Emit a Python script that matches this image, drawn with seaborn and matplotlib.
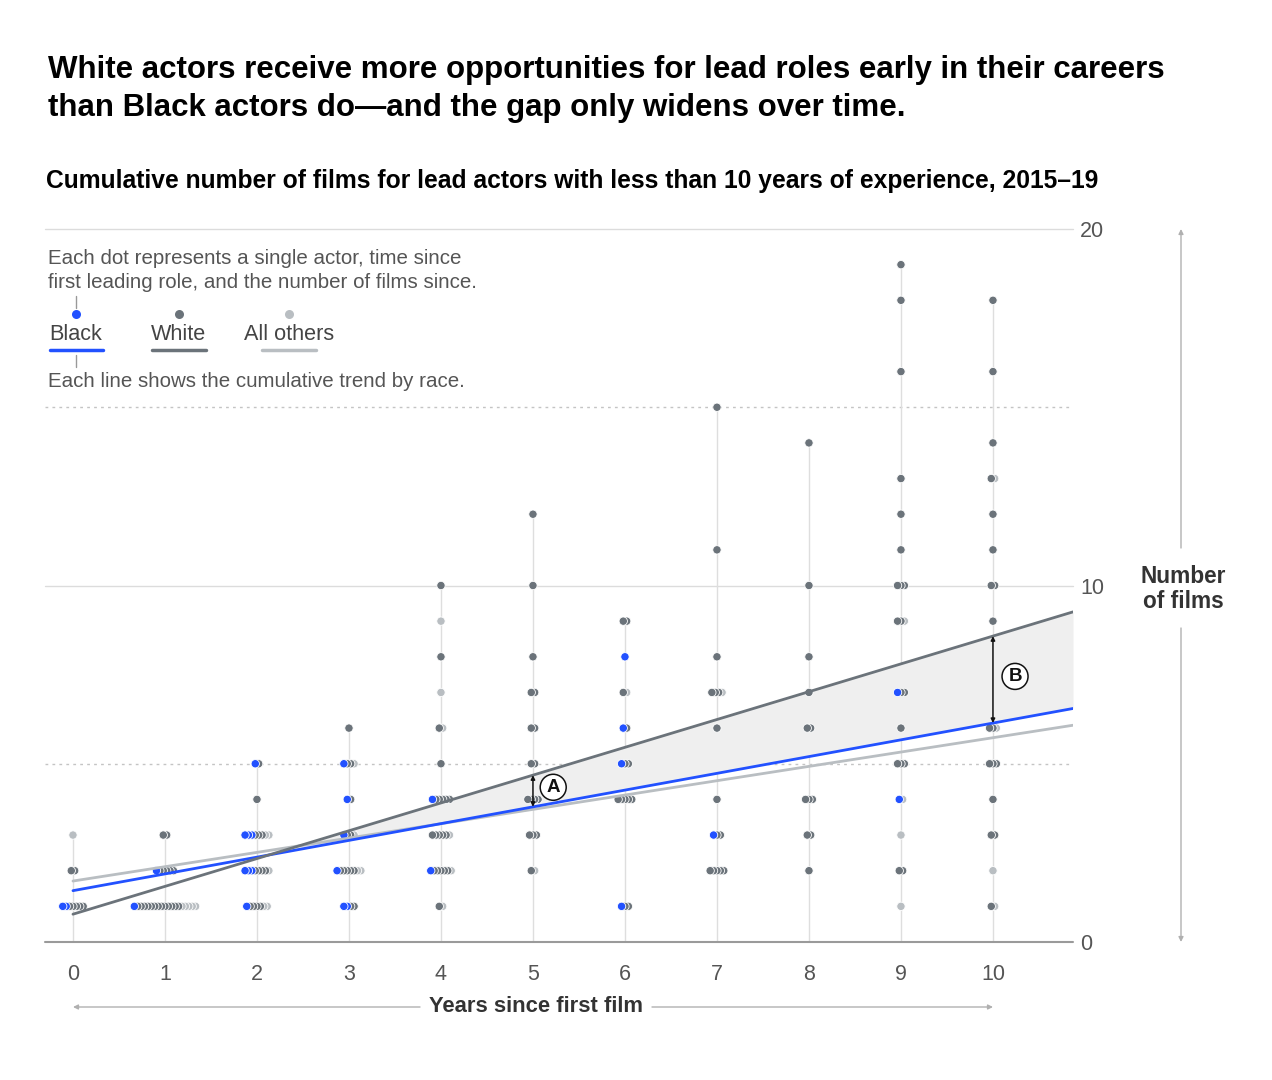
import numpy as np
import pandas as pd
import matplotlib.pyplot as plt
from matplotlib.lines import Line2D
import seaborn as sns

# (years since first film, cumulative films, number of actors)
BLACK = [
    (0, 1, 2),
    (1, 1, 1), (1, 2, 1),
    (2, 1, 1), (2, 2, 3), (2, 3, 3), (2, 5, 1),
    (3, 1, 2), (3, 2, 1), (3, 3, 1), (3, 4, 1), (3, 5, 1),
    (4, 2, 1), (4, 4, 1),
    (6, 1, 1), (6, 5, 1), (6, 6, 1), (6, 8, 1),
    (7, 3, 1),
    (9, 4, 1), (9, 7, 1),
]
WHITE = [
    (0, 1, 5), (0, 2, 2),
    (1, 1, 13), (1, 2, 5), (1, 3, 2),
    (2, 1, 4), (2, 2, 4), (2, 3, 3), (2, 4, 1), (2, 5, 1),
    (3, 1, 2), (3, 2, 5), (3, 3, 2), (3, 4, 1), (3, 5, 2), (3, 6, 1),
    (4, 1, 1), (4, 2, 5), (4, 3, 5), (4, 4, 5), (4, 5, 1), (4, 6, 1), (4, 8, 1), (4, 10, 1),
    (5, 2, 1), (5, 3, 3), (5, 4, 4), (5, 5, 2), (5, 6, 2), (5, 7, 2), (5, 8, 1), (5, 10, 1), (5, 12, 1),
    (6, 1, 2), (6, 4, 5), (6, 5, 2), (6, 6, 1), (6, 7, 1), (6, 9, 2),
    (7, 2, 5), (7, 3, 2), (7, 4, 1), (7, 6, 1), (7, 7, 3), (7, 8, 1), (7, 11, 1), (7, 15, 1),
    (8, 2, 1), (8, 3, 2), (8, 4, 3), (8, 6, 2), (8, 7, 1), (8, 8, 1), (8, 10, 1), (8, 14, 1),
    (9, 2, 2), (9, 5, 3), (9, 6, 1), (9, 7, 2), (9, 9, 2), (9, 10, 3), (9, 11, 1), (9, 12, 1),
    (9, 13, 1), (9, 16, 1), (9, 18, 1), (9, 19, 1),
    (10, 1, 1), (10, 3, 2), (10, 4, 1), (10, 5, 3), (10, 6, 2), (10, 9, 1), (10, 10, 2),
    (10, 11, 1), (10, 12, 1), (10, 13, 1), (10, 14, 1), (10, 16, 1), (10, 18, 1),
]
OTHERS = [
    (0, 3, 1),
    (1, 1, 5),
    (2, 1, 2), (2, 2, 1), (2, 3, 2),
    (3, 2, 2), (3, 3, 1), (3, 5, 1),
    (4, 1, 1), (4, 2, 1), (4, 3, 1), (4, 6, 1), (4, 7, 1), (4, 9, 1),
    (5, 2, 1),
    (6, 7, 1),
    (7, 7, 1),
    (9, 1, 1), (9, 3, 1), (9, 4, 1), (9, 9, 1),
    (10, 1, 1), (10, 2, 1), (10, 6, 1), (10, 13, 1),
]

# cumulative trend lines, read at the start and end of the plot
TREND_X = [0, 10.87]
TREND_BLACK = [1.44, 6.55]
TREND_WHITE = [0.78, 9.26]
TREND_OTHERS = [1.71, 6.08]

YEARS = list(range(11))
Y_TICKS = [0, 10, 20]
RACES = ["Black", "White", "All others"]
COLORS = {"Black": "#2251ff", "White": "#6b737a", "All others": "#b9bec2"}

TITLE = ("White actors receive more opportunities for lead roles early in their careers\n"
         "than Black actors do\u2014and the gap only widens over time.")
SUBTITLE = "Cumulative number of films for lead actors with less than 10 years of experience, 2015\u201319"

W, H = 1272, 1080


def fx(px):
    return px / W


def fy(py):
    return 1 - py / H


# ── one row per actor, stacked sideways inside each (year, films) cell ──────
rows = []
for race, data in zip(RACES, [BLACK, WHITE, OTHERS]):
    for year, films, n in data:
        rows += [(race, year, films)] * n
df = pd.DataFrame(rows, columns=["race", "year", "films"])
df["order"] = df["race"].map({r: i for i, r in enumerate(RACES)})
df = df.sort_values(["year", "films", "order"], kind="stable")
grp = df.groupby(["year", "films"])
df["idx"] = grp.cumcount()
df["n"] = grp["race"].transform("size")
STEP = 0.037
df["x"] = df["year"] + (df["idx"] - (df["n"] - 1) / 2) * STEP
df = df.sort_values("x", ascending=False)   # leftmost dot ends up on top

trend = pd.DataFrame({
    "x": TREND_X * 3,
    "films": TREND_OTHERS + TREND_BLACK + TREND_WHITE,
    "race": ["All others"] * 2 + ["Black"] * 2 + ["White"] * 2,
})

sns.set_theme(style="white")
plt.rcParams["font.family"] = ["Liberation Sans", "DejaVu Sans"]

fig = plt.figure(figsize=(12.72, 10.8), dpi=100)
ax = fig.add_axes([fx(45), fy(942), (1073 - 45) / W, (942 - 229) / H])
ax.set_xlim(-0.304, 10.87)
ax.set_ylim(0, 20)

# grid
for v in [10, 20]:
    ax.axhline(v, color="#dcdcdc", lw=1, zorder=0, clip_on=False)
for v in [5, 15]:
    ax.axhline(v, color="#c4c4c4", lw=1, ls=(0, (2, 3)), zorder=0)
ax.axhline(0, color="#9a9a9a", lw=1.5, zorder=1, clip_on=False)
tops = df.groupby("year")["films"].max()
ax.vlines(tops.index, 0, tops.values, color="#dedede", lw=1, zorder=0)

# gap between White and Black trends
xs = np.linspace(TREND_X[0], TREND_X[1], 300)
wv = np.interp(xs, TREND_X, TREND_WHITE)
bv = np.interp(xs, TREND_X, TREND_BLACK)
ax.fill_between(xs, bv, wv, where=wv >= bv, interpolate=True,
                color="#efefef", lw=0, zorder=0.5)

sns.scatterplot(data=df, x="x", y="films", hue="race", palette=COLORS,
                s=36, edgecolor="white", linewidth=0.6, legend=False,
                ax=ax, zorder=2)
sns.lineplot(data=trend, x="x", y="films", hue="race", palette=COLORS,
             hue_order=["All others", "Black", "White"], lw=2,
             legend=False, ax=ax, zorder=3)

# gap markers A and B
for xa, label, lx, ly in [(5, "A", 5.22, 4.34), (10, "B", 10.24, 7.45)]:
    top = np.interp(xa, TREND_X, TREND_WHITE)
    bot = np.interp(xa, TREND_X, TREND_BLACK)
    ax.annotate("", xy=(xa, top), xytext=(xa, bot), zorder=4,
                arrowprops=dict(arrowstyle="<|-|>", color="#111", lw=1.1,
                                shrinkA=0, shrinkB=0, mutation_scale=6))
    ax.text(lx, ly, label, ha="center", va="center", fontsize=13.5,
            fontweight="bold", color="#111", zorder=5,
            bbox=dict(boxstyle="circle,pad=0.24", fc="white", ec="#111", lw=1.1))

# axes, ticks
ax.set_xticks(YEARS)
ax.set_yticks(Y_TICKS)
ax.yaxis.tick_right()
ax.tick_params(axis="x", length=0, pad=16, labelsize=15.5, labelcolor="#555")
ax.tick_params(axis="y", length=0, pad=5, labelsize=15.5, labelcolor="#555")
ax.set_xlabel("")
ax.set_ylabel("")
sns.despine(ax=ax, left=True, bottom=True, right=True, top=True)
ax.grid(False)

arrow_kw = dict(arrowstyle="-|>", color="#b0b0b0", lw=1, mutation_scale=7,
                shrinkA=0, shrinkB=0)
ax.annotate("", xy=(fx(1181), fy(229)), xytext=(fx(1181), fy(548)),
            xycoords="figure fraction", arrowprops=arrow_kw, annotation_clip=False)
ax.annotate("", xy=(fx(1181), fy(942)), xytext=(fx(1181), fy(628)),
            xycoords="figure fraction", arrowprops=arrow_kw, annotation_clip=False)
fig.text(fx(1183), fy(589), "Number\nof films", ha="center", va="center",
         fontsize=16.3, fontweight="bold", color="#333", linespacing=1.15)

ax.annotate("", xy=(fx(73), fy(1007)), xytext=(fx(420), fy(1007)),
            xycoords="figure fraction", arrowprops=arrow_kw, annotation_clip=False)
ax.annotate("", xy=(fx(993), fy(1007)), xytext=(fx(652), fy(1007)),
            xycoords="figure fraction", arrowprops=arrow_kw, annotation_clip=False)
fig.text(fx(536), fy(1006), "Years since first film", ha="center", va="center",
         fontsize=15.8, fontweight="bold", color="#333")

# titles
fig.text(fx(48), fy(55), TITLE, ha="left", va="top", fontsize=22.5,
         fontweight="bold", color="#000", linespacing=1.33)
fig.text(fx(46), fy(181), SUBTITLE, ha="left", va="center", fontsize=17.7,
         fontweight="bold", color="#000")

# explanatory legend
note_kw = dict(ha="left", va="center", fontsize=14.8, color="#555")
fig.text(fx(48), fy(258), "Each dot represents a single actor, time since", **note_kw)
fig.text(fx(48), fy(282), "first leading role, and the number of films since.", **note_kw)
fig.text(fx(48), fy(381), "Each line shows the cumulative trend by race.", **note_kw)
fig.add_artist(Line2D([fx(76), fx(76)], [fy(296), fy(308)], color="#999", lw=1))
fig.add_artist(Line2D([fx(76), fx(76)], [fy(355), fy(367)], color="#999", lw=1))
for race, cx, x0, x1 in [("Black", 76, 50, 103), ("White", 179, 152, 206),
                         ("All others", 289, 262, 316)]:
    fig.add_artist(Line2D([fx(cx)], [fy(314)], marker="o", ms=6.5, mew=0,
                          color=COLORS[race]))
    fig.text(fx(cx), fy(335), race, ha="center", va="center", fontsize=15.6,
             color="#444")
    fig.add_artist(Line2D([fx(x0), fx(x1)], [fy(350), fy(350)], lw=2.5,
                          color=COLORS[race], solid_capstyle="round"))

fig.savefig("out.png", dpi=100)
